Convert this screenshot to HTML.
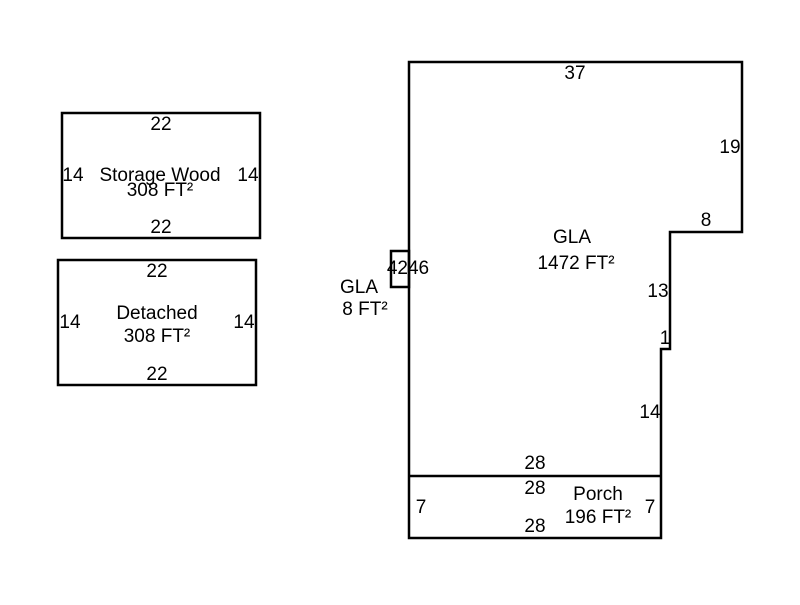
<!DOCTYPE html>
<html><head><style>body{margin:0;background:#fff}svg text{font-family:"Liberation Sans",sans-serif;font-size:19px;fill:#000}</style></head>
<body>
<svg width="800" height="600" xmlns="http://www.w3.org/2000/svg">
<g fill="none" stroke="#000" stroke-width="2.5">
<rect x="62" y="113" width="198" height="125"/>
<rect x="58" y="260" width="198" height="125"/>
<polygon points="409,62 742,62 742,232 670,232 670,349 661,349 661,538 409,538"/>
<line x1="409" y1="476" x2="661" y2="476"/>
<rect x="391" y="251" width="18" height="36"/>
</g>
<g text-anchor="middle">
<text x="161" y="130">22</text>
<text x="73" y="181">14</text>
<text x="248" y="181">14</text>
<text x="160" y="181">Storage Wood</text>
<text x="160" y="196">308 FT²</text>
<text x="161" y="233">22</text>
<text x="157" y="277">22</text>
<text x="70" y="328">14</text>
<text x="244" y="328">14</text>
<text x="157" y="319">Detached</text>
<text x="157" y="342">308 FT²</text>
<text x="157" y="380">22</text>
<text x="575" y="79">37</text>
<text x="730" y="153">19</text>
<text x="706" y="226">8</text>
<text x="572" y="243">GLA</text>
<text x="576" y="269">1472 FT²</text>
<text x="658" y="297">13</text>
<text x="665" y="344">1</text>
<text x="650" y="418">14</text>
<text x="408" y="274">4246</text>
<text x="359" y="293">GLA</text>
<text x="365" y="315">8 FT²</text>
<text x="535" y="469">28</text>
<text x="535" y="494">28</text>
<text x="598" y="500">Porch</text>
<text x="598" y="523">196 FT²</text>
<text x="421" y="513">7</text>
<text x="650" y="513">7</text>
<text x="535" y="532">28</text>
</g>
</svg>
</body></html>
